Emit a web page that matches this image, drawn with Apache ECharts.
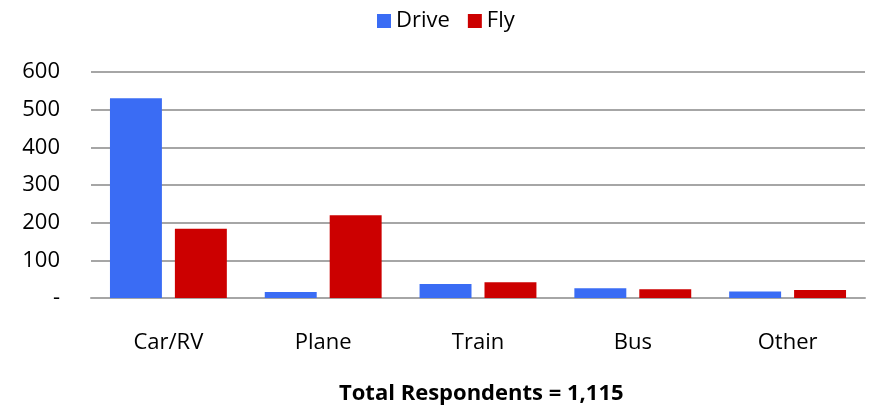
<!DOCTYPE html>
<html><head><meta charset="utf-8">
<script src="https://cdn.jsdelivr.net/npm/echarts@6/dist/echarts.min.js"></script>
<style>html,body{margin:0;padding:0;background:#fff}#c{width:871px;height:409px}</style>
</head><body><div id="c"></div>
<script>
const categories = ["Car/RV", "Plane", "Train", "Bus", "Other"];
const driveValues = [530, 16, 37, 26, 17];
const flyValues = [184, 220, 42, 23, 21];
const yTicks = [0, 100, 200, 300, 400, 500, 600];
const chartTitle = "Total Respondents = 1,115";

const FONT = "Open Sans";
const chart = echarts.init(document.getElementById('c'));
chart.setOption({
  backgroundColor: '#fff',
  animation: false,
  textStyle: { fontFamily: FONT },
  title: {
    text: chartTitle, left: 334, top: 378,
    textStyle: { fontSize: 22, fontWeight: 'bold', color: '#000', fontFamily: FONT }
  },
  legend: {
    top: 5, left: 372, itemWidth: 14, itemHeight: 14, itemGap: 18,
    icon: 'rect',
    textStyle: { fontSize: 22, color: '#000', fontFamily: FONT }
  },
  grid: { left: 91, right: 6, top: 72, bottom: 111 },
  xAxis: {
    type: 'category', data: categories,
    axisLine: { lineStyle: { color: '#a6a6a6', width: 2 } },
    axisTick: { show: false },
    axisLabel: { fontSize: 22, color: '#000', margin: 34, fontFamily: FONT }
  },
  yAxis: {
    type: 'value', min: yTicks[0], max: yTicks[yTicks.length - 1], interval: 100,
    axisLine: { show: false }, axisTick: { show: false },
    splitLine: { lineStyle: { color: '#a6a6a6', width: 2 } },
    axisLabel: { fontSize: 22, color: '#000', margin: 31, fontFamily: FONT,
      formatter: v => v === 0 ? '-' : String(v) }
  },
  series: [
    { name: 'Drive', type: 'bar', data: driveValues, barGap: '25%', barCategoryGap: '24.5%',
      itemStyle: { color: '#3a6cf4' } },
    { name: 'Fly', type: 'bar', data: flyValues,
      itemStyle: { color: '#cc0000' } }
  ]
});
</script></body></html>
